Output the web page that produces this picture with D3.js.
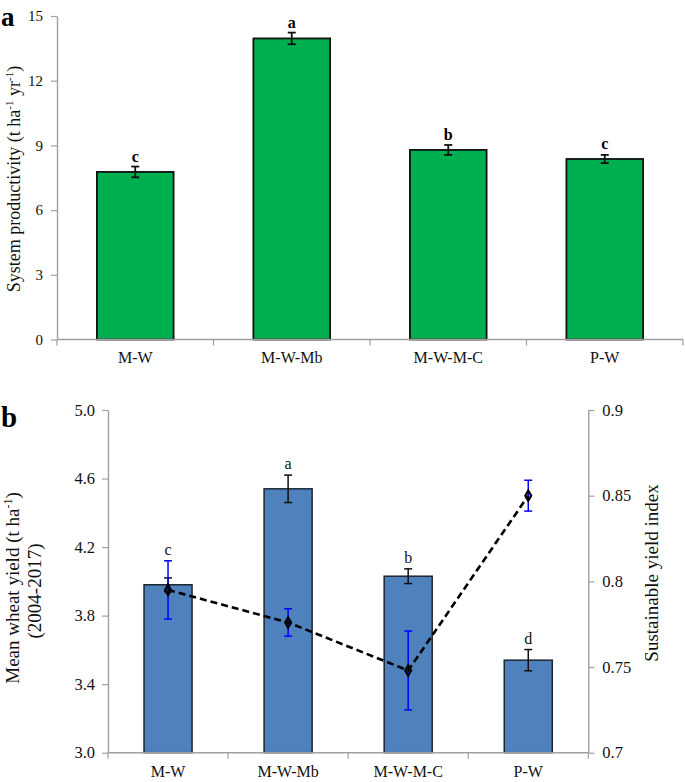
<!DOCTYPE html>
<html><head><meta charset="utf-8">
<script src="https://cdn.jsdelivr.net/npm/d3@7"></script>
<style>
html,body{margin:0;padding:0;background:#fff;}
svg{display:block;font-family:"Liberation Serif","Times New Roman",serif;}
</style></head>
<body><svg id="c" width="685" height="782"></svg>
<script>
const categories = ["M-W", "M-W-Mb", "M-W-M-C", "P-W"];
const productivity = [7.77, 13.96, 8.79, 8.37];
const productivityErr = [0.25, 0.27, 0.23, 0.19];
const productivityLetters = ["c", "a", "b", "c"];
const wheatYield = [3.98, 4.54, 4.03, 3.54];
const wheatYieldErr = [0.04, 0.08, 0.043, 0.062];
const wheatLetters = ["c", "a", "b", "d"];
const syi = [0.795, 0.776, 0.748, 0.850];
const syiErr = [0.017, 0.008, 0.023, 0.009];
const ticksA = [0, 3, 6, 9, 12, 15];
const ticksBLeft = [3.0, 3.4, 3.8, 4.2, 4.6, 5.0];
const ticksBRight = [0.7, 0.75, 0.8, 0.85, 0.9];

const svg = d3.select("#c");
const axisCol = "#a0a0a0";
const FF = '"Liberation Serif","Times New Roman",serif';

function styleAxis(g, fs) {
  g.select(".domain").attr("stroke", axisCol).attr("stroke-width", 1.4);
  g.selectAll(".tick line").attr("stroke", axisCol).attr("stroke-width", 1.2);
  g.selectAll(".tick text").attr("fill", "#111").style("font-size", fs + "px").style("font-family", FF);
}
function errBar(g, x, y1, y2, col, w) {
  g.append("line").attr("x1", x).attr("x2", x).attr("y1", y1).attr("y2", y2).attr("stroke", col).attr("stroke-width", w);
  g.append("line").attr("x1", x - 4).attr("x2", x + 4).attr("y1", y1).attr("y2", y1).attr("stroke", col).attr("stroke-width", w);
  g.append("line").attr("x1", x - 4).attr("x2", x + 4).attr("y1", y2).attr("y2", y2).attr("stroke", col).attr("stroke-width", w);
}

// ---------- Panel a ----------
const aL = 57, aR = 683, aT = 16, aB = 339.5;
const xA = d3.scaleBand().domain(categories).range([aL, aR]).paddingInner(0.51).paddingOuter(0.255);
const yA = d3.scaleLinear().domain([0, 15]).range([aB, aT]);
const gA = svg.append("g");

gA.selectAll("rect.bar").data(categories).join("rect")
  .attr("x", d => xA(d)).attr("width", xA.bandwidth())
  .attr("y", (d, i) => yA(productivity[i])).attr("height", (d, i) => aB - yA(productivity[i]))
  .attr("fill", "#00b050").attr("stroke", "#111").attr("stroke-width", 1.8);

const yAxisA = gA.append("g").attr("transform", `translate(${aL},0)`)
  .call(d3.axisLeft(yA).tickValues(ticksA).tickSize(6).tickPadding(8).tickSizeOuter(0));
styleAxis(yAxisA, 15);

const xAxisA = gA.append("g").attr("transform", `translate(0,${aB})`)
  .call(d3.axisBottom(xA).tickSize(0).tickPadding(12).tickSizeOuter(0));
styleAxis(xAxisA, 16);
xAxisA.select(".domain").attr("d", `M${aL},0H${aR}`);
d3.range(categories.length + 1).forEach(i => {
  const x = aL + i * xA.step();
  xAxisA.append("line").attr("x1", x).attr("x2", x).attr("y1", 0).attr("y2", 6).attr("stroke", axisCol).attr("stroke-width", 1.2);
});

categories.forEach((c, i) => {
  const cx = xA(c) + xA.bandwidth() / 2;
  errBar(gA, cx, yA(productivity[i] + productivityErr[i]), yA(productivity[i] - productivityErr[i]), "#111", 1.8);
  gA.append("text").attr("x", cx).attr("y", yA(productivity[i]) - 10)
    .attr("text-anchor", "middle").style("font-size", "16px").style("font-weight", "bold").text(productivityLetters[i]);
});

const labA = gA.append("text").attr("transform", `translate(20,179) rotate(-90)`)
  .attr("text-anchor", "middle").style("font-size", "18px").attr("fill", "#111");
labA.append("tspan").text("System productivity (t ha");
labA.append("tspan").attr("dy", -7).style("font-size", "11px").text("-1");
labA.append("tspan").attr("dy", 7).text(" yr");
labA.append("tspan").attr("dy", -7).style("font-size", "11px").text("-1");
labA.append("tspan").attr("dy", 7).text(")");

svg.append("text").attr("x", 1).attr("y", 26).style("font-size", "27px").style("font-weight", "bold").text("a");

// ---------- Panel b ----------
const bL = 108, bR = 588.3, bT = 410, bB = 752.7;
const xB = d3.scaleBand().domain(categories).range([bL, bR]).paddingInner(0.6).paddingOuter(0.3);
const yB = d3.scaleLinear().domain([3.0, 5.0]).range([bB, bT]);
const yB2 = d3.scaleLinear().domain([0.7, 0.9]).range([bB, bT]);
const gB = svg.append("g");

gB.selectAll("rect.bar").data(categories).join("rect")
  .attr("x", d => xB(d)).attr("width", xB.bandwidth())
  .attr("y", (d, i) => yB(wheatYield[i])).attr("height", (d, i) => bB - yB(wheatYield[i]))
  .attr("fill", "#4f81bd").attr("stroke", "#1c2533").attr("stroke-width", 1.5);

const yAxisB = gB.append("g").attr("transform", `translate(${bL},0)`)
  .call(d3.axisLeft(yB).tickValues(ticksBLeft).tickFormat(d3.format(".1f")).tickSize(6).tickPadding(7).tickSizeOuter(0));
styleAxis(yAxisB, 16.5);
const yAxisB2 = gB.append("g").attr("transform", `translate(${bR},0)`)
  .call(d3.axisRight(yB2).tickValues(ticksBRight).tickFormat(d => String(+d.toFixed(2))).tickSize(6).tickPadding(8).tickSizeOuter(0));
styleAxis(yAxisB2, 16.5);

const xAxisB = gB.append("g").attr("transform", `translate(0,${bB})`)
  .call(d3.axisBottom(xB).tickSize(0).tickPadding(13).tickSizeOuter(0));
styleAxis(xAxisB, 16);
xAxisB.select(".domain").attr("d", `M${bL},0H${bR}`);
d3.range(categories.length + 1).forEach(i => {
  const x = bL + i * xB.step();
  xAxisB.append("line").attr("x1", x).attr("x2", x).attr("y1", 0).attr("y2", 6).attr("stroke", axisCol).attr("stroke-width", 1.2);
});

categories.forEach((c, i) => {
  const cx = xB(c) + xB.bandwidth() / 2;
  errBar(gB, cx, yB(wheatYield[i] + wheatYieldErr[i]), yB(wheatYield[i] - wheatYieldErr[i]), "#111", 1.5);
});
categories.forEach((c, i) => {
  const cx = xB(c) + xB.bandwidth() / 2;
  errBar(gB, cx, yB2(syi[i] + syiErr[i]), yB2(syi[i] - syiErr[i]), "#0000ff", 1.5);
});
categories.forEach((c, i) => {
  const cx = xB(c) + xB.bandwidth() / 2;
  let top = yB(wheatYield[i] + wheatYieldErr[i]);
  const bTop = yB2(syi[i] + syiErr[i]), bBot = yB2(syi[i] - syiErr[i]);
  if (top >= bTop && top <= bBot) top = bTop; // avoid overlapping the SYI error bar
  gB.append("text").attr("x", cx).attr("y", top - 6)
    .attr("text-anchor", "middle").style("font-size", "16px").attr("fill", "#111").text(wheatLetters[i]);
});

const line = d3.line().x((d, i) => xB(categories[i]) + xB.bandwidth() / 2).y(d => yB2(d));
gB.append("path").datum(syi).attr("d", line).attr("fill", "none")
  .attr("stroke", "#000").attr("stroke-width", 2.6).attr("stroke-dasharray", "7,4");
gB.selectAll("path.mk").data(syi).join("path")
  .attr("transform", (d, i) => `translate(${xB(categories[i]) + xB.bandwidth() / 2},${yB2(d)})`)
  .attr("d", d3.symbol(d3.symbolDiamond, 30)).attr("fill", "none").attr("stroke", "#000").attr("stroke-width", 2.2);

const labB = gB.append("text").attr("transform", `translate(19,588) rotate(-90)`)
  .attr("text-anchor", "middle").style("font-size", "19px").attr("fill", "#111");
labB.append("tspan").text("Mean wheat yield (t ha");
labB.append("tspan").attr("dy", -7).style("font-size", "12px").text("-1");
labB.append("tspan").attr("dy", 7).text(")");
gB.append("text").attr("transform", `translate(41,591) rotate(-90)`)
  .attr("text-anchor", "middle").style("font-size", "19px").attr("fill", "#111").text("(2004-2017)");

gB.append("text").attr("transform", `translate(658,573) rotate(-90)`)
  .attr("text-anchor", "middle").style("font-size", "19px").attr("fill", "#111").text("Sustainable yield index");

svg.append("text").attr("x", 1).attr("y", 427).style("font-size", "29px").style("font-weight", "bold").text("b");
</script></body></html>
